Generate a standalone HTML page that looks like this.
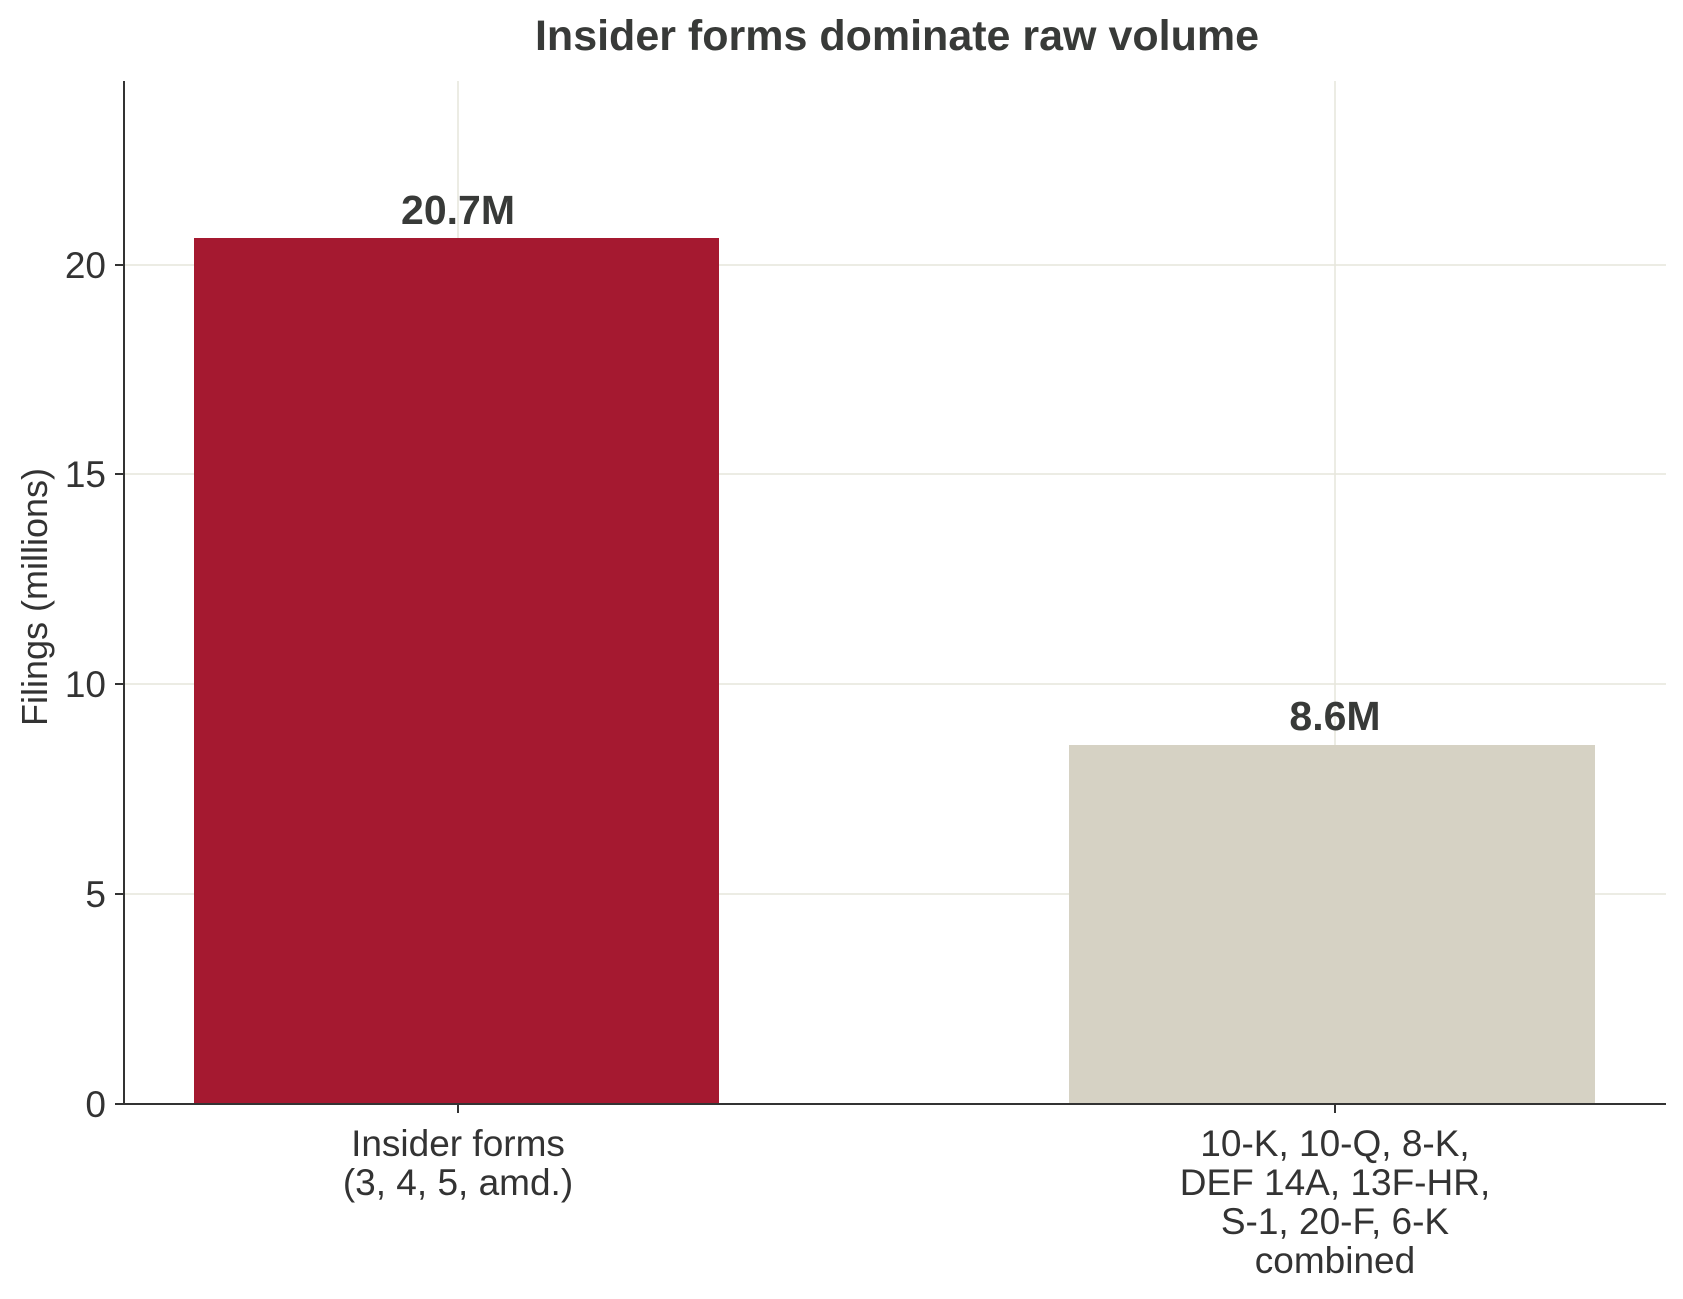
<!DOCTYPE html>
<html><head><meta charset="utf-8"><style>html,body{margin:0;padding:0;background:#fff}</style></head>
<body>
<svg width="1683" height="1294" xmlns="http://www.w3.org/2000/svg" font-family="'Liberation Sans', Arial, sans-serif" fill="#333">
<rect width="1683" height="1294" fill="#fff"/>
<g stroke="#e6e5dc" stroke-width="1.5">
<line x1="124" y1="894" x2="1666" y2="894"/>
<line x1="124" y1="684" x2="1666" y2="684"/>
<line x1="124" y1="474" x2="1666" y2="474"/>
<line x1="124" y1="265" x2="1666" y2="265"/>
<line x1="458" y1="81" x2="458" y2="1104"/>
<line x1="1335" y1="81" x2="1335" y2="1104"/>
</g>
<rect x="194" y="238" width="525" height="866" fill="#A51930"/>
<rect x="1069" y="745" width="526" height="359" fill="#D6D2C4"/>
<g stroke="#333" stroke-width="2">
<line x1="124" y1="81" x2="124" y2="1105"/>
<line x1="123" y1="1104" x2="1666" y2="1104"/>
<line x1="115" y1="1104" x2="124" y2="1104"/>
<line x1="115" y1="894" x2="124" y2="894"/>
<line x1="115" y1="684" x2="124" y2="684"/>
<line x1="115" y1="474" x2="124" y2="474"/>
<line x1="115" y1="265" x2="124" y2="265"/>
<line x1="458" y1="1104" x2="458" y2="1113"/>
<line x1="1335" y1="1104" x2="1335" y2="1113"/>
</g>
<g font-size="37" text-anchor="end">
<text x="106" y="1117">0</text>
<text x="106" y="907">5</text>
<text x="106" y="697">10</text>
<text x="106" y="487">15</text>
<text x="106" y="278">20</text>
</g>
<text transform="translate(47,597) rotate(-90)" font-size="36" text-anchor="middle">Filings (millions)</text>
<g font-size="37" text-anchor="middle">
<text x="458" y="1156">Insider forms</text>
<text x="458" y="1195">(3, 4, 5, amd.)</text>
<text x="1335" y="1156">10-K, 10-Q, 8-K,</text>
<text x="1335" y="1195">DEF 14A, 13F-HR,</text>
<text x="1335" y="1234">S-1, 20-F, 6-K</text>
<text x="1335" y="1273">combined</text>
</g>
<g font-size="41" font-weight="bold" text-anchor="middle" fill="#383a38">
<text x="458" y="224">20.7M</text>
<text x="1335" y="730">8.6M</text>
</g>
<text x="897" y="50" font-size="43" font-weight="bold" text-anchor="middle" fill="#383a38">Insider forms dominate raw volume</text>
</svg>
</body></html>
